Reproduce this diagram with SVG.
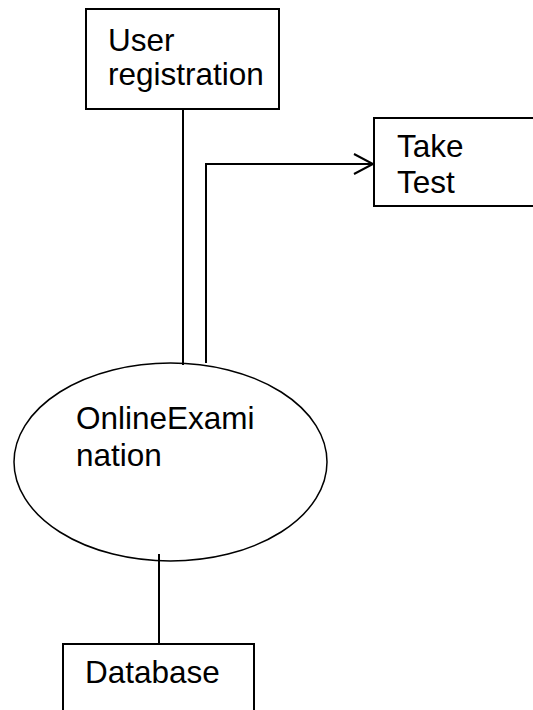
<svg xmlns="http://www.w3.org/2000/svg" width="533" height="710" viewBox="0 0 533 710">
<style>
.box{fill:#fff;stroke:#000;stroke-width:2}
.ell{fill:#fff;stroke:#000;stroke-width:1.5}
.lbl{font-family:"Liberation Sans",Arial,sans-serif;font-size:31.5px;fill:#000}
.ln{fill:none;stroke:#000;stroke-width:2}
</style>
<defs>
<marker id="arr" markerUnits="userSpaceOnUse" markerWidth="24" markerHeight="24" refX="20" refY="11" orient="auto">
<path d="M1,1 L20,11 L1,21" fill="none" stroke="#000" stroke-width="2"/>
</marker>
</defs>
<rect width="533" height="710" fill="#fff"/>
<g id="user-registration">
<rect class="box" x="86" y="9" width="193" height="100"/>
<text class="lbl" x="108" y="51">User</text>
<text class="lbl" x="108" y="85">registration</text>
</g>
<g id="take-test">
<rect class="box" x="374" y="118" width="170" height="88"/>
<text class="lbl" x="397" y="157">Take</text>
<text class="lbl" x="397" y="193">Test</text>
</g>
<g id="online-examination">
<ellipse class="ell" cx="170.5" cy="462" rx="156.5" ry="99"/>
<text class="lbl" x="76" y="429">OnlineExami</text>
<text class="lbl" x="76" y="466">nation</text>
</g>
<g id="database">
<rect class="box" x="63" y="644" width="191" height="80"/>
<text class="lbl" x="85" y="683">Database</text>
</g>
<g id="connectors">
<line class="ln" x1="183" y1="109" x2="183" y2="365"/>
<polyline class="ln" points="206,363 206,164 373,164" marker-end="url(#arr)"/>
<line class="ln" x1="159" y1="554" x2="159" y2="644"/>
</g>
</svg>
